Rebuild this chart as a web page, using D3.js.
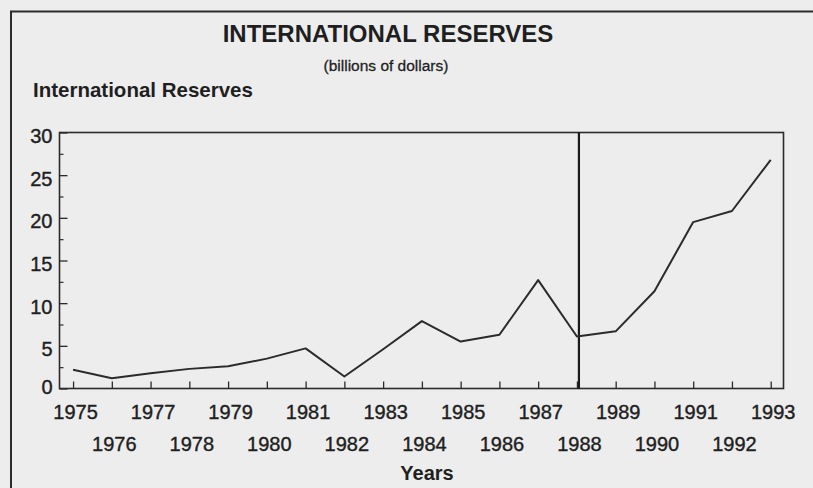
<!DOCTYPE html>
<html>
<head>
<meta charset="utf-8">
<script src="https://cdn.jsdelivr.net/npm/d3@7"></script>
<style>
  html, body { margin: 0; padding: 0; background: #ededed; }
  svg { display: block; font-family: "Liberation Sans", Arial, sans-serif; }
</style>
</head>
<body>
<svg id="mount" width="813" height="488"></svg>
<script>
var years = [1975, 1976, 1977, 1978, 1979, 1980, 1981, 1982, 1983, 1984,
  1985, 1986, 1987, 1988, 1989, 1990, 1991, 1992, 1993];
var reserves = [2.2, 1.2, 1.8, 2.3, 2.6, 3.5, 4.7, 1.4, 4.6, 7.9,
  5.5, 6.3, 12.7, 6.1, 6.7, 11.4, 19.5, 20.8, 26.8];
var yTicks = [0, 5, 10, 15, 20, 25, 30];
var yMinorTicks = [2.5, 7.5, 12.5, 17.5, 22.5, 27.5];
var breakYear = 1988;

var ink = "#2b2b2b";
var textInk = "#1f1f1f";

var svg = d3.select("#mount");

// outer frame (only top and left edges show in the picture)
svg.append("path")
  .attr("d", "M11,488V11.5H813")
  .attr("fill", "none")
  .attr("stroke", ink)
  .attr("stroke-width", 2);

// titles
svg.append("text")
  .attr("x", 388)
  .attr("y", 42)
  .attr("text-anchor", "middle")
  .style("font-size", "24px")
  .style("font-weight", "bold")
  .attr("fill", textInk)
  .text("INTERNATIONAL RESERVES");

svg.append("text")
  .attr("x", 386)
  .attr("y", 71)
  .attr("text-anchor", "middle")
  .style("font-size", "15.5px")
  .attr("fill", textInk)
  .attr("stroke", textInk)
  .attr("stroke-width", 0.3)
  .text("(billions of dollars)");

svg.append("text")
  .attr("x", 33)
  .attr("y", 97)
  .style("font-size", "20.5px")
  .style("font-weight", "bold")
  .attr("fill", textInk)
  .text("International Reserves");

var plotLeft = 59.5, plotRight = 783.5, plotTop = 132.5, plotBottom = 388.5;

var x = d3.scaleLinear()
  .domain([1974.65, 1993.33])
  .range([plotLeft, plotRight]);

var y = d3.scaleLinear()
  .domain([0, 30])
  .range([plotBottom, plotTop]);

// y axis, ticks point into the plot
var yAxis = svg.append("g")
  .attr("transform", "translate(" + plotLeft + ",0)")
  .call(d3.axisLeft(y).tickValues(yTicks).tickSizeInner(-8).tickSizeOuter(0).tickPadding(7));
yAxis.select(".domain").remove();
yAxis.selectAll("line").attr("stroke", ink).attr("stroke-width", 1.3);
yAxis.selectAll("text")
  .attr("fill", textInk)
  .attr("stroke", textInk)
  .attr("stroke-width", 0.4)
  .style("font-size", "20px")
  .style("font-family", "inherit")
  .attr("dy", function(d) { return d === 0 ? "0.25em" : "0.5em"; });

var yMinor = svg.append("g")
  .attr("transform", "translate(" + plotLeft + ",0)")
  .call(d3.axisLeft(y).tickValues(yMinorTicks).tickSizeInner(-4).tickSizeOuter(0).tickFormat(""));
yMinor.select(".domain").remove();
yMinor.selectAll("line").attr("stroke", ink).attr("stroke-width", 1.2);

// x axis, labels staggered on two rows
var xAxis = svg.append("g")
  .attr("transform", "translate(0," + plotBottom + ")")
  .call(d3.axisBottom(x).tickValues(years).tickSizeInner(-7).tickSizeOuter(0).tickFormat(d3.format("d")));
xAxis.select(".domain").remove();
xAxis.selectAll("line").attr("stroke", ink).attr("stroke-width", 1.3);
xAxis.selectAll("text")
  .attr("fill", textInk)
  .attr("stroke", textInk)
  .attr("stroke-width", 0.4)
  .style("font-size", "20px")
  .style("font-family", "inherit")
  .attr("x", 2)
  .attr("dy", 0)
  .attr("y", function(d) { return d % 2 === 1 ? 30 : 62; });

svg.append("text")
  .attr("x", 427)
  .attr("y", 480)
  .attr("text-anchor", "middle")
  .style("font-size", "20px")
  .style("font-weight", "bold")
  .attr("fill", textInk)
  .text("Years");

// plot frame
svg.append("rect")
  .attr("x", plotLeft)
  .attr("y", plotTop)
  .attr("width", plotRight - plotLeft)
  .attr("height", plotBottom - plotTop)
  .attr("fill", "none")
  .attr("stroke", ink)
  .attr("stroke-width", 1.6);

// break marker
svg.append("line")
  .attr("x1", x(breakYear) + 2)
  .attr("x2", x(breakYear) + 2)
  .attr("y1", plotTop)
  .attr("y2", plotBottom)
  .attr("stroke", "#1a1a1a")
  .attr("stroke-width", 2.2);

var line = d3.line()
  .x(function(d, i) { return x(years[i]); })
  .y(function(d) { return y(d); });

svg.append("path")
  .datum(reserves)
  .attr("fill", "none")
  .attr("stroke", ink)
  .attr("stroke-width", 2)
  .attr("stroke-linejoin", "round")
  .attr("d", line);
</script>
</body>
</html>
